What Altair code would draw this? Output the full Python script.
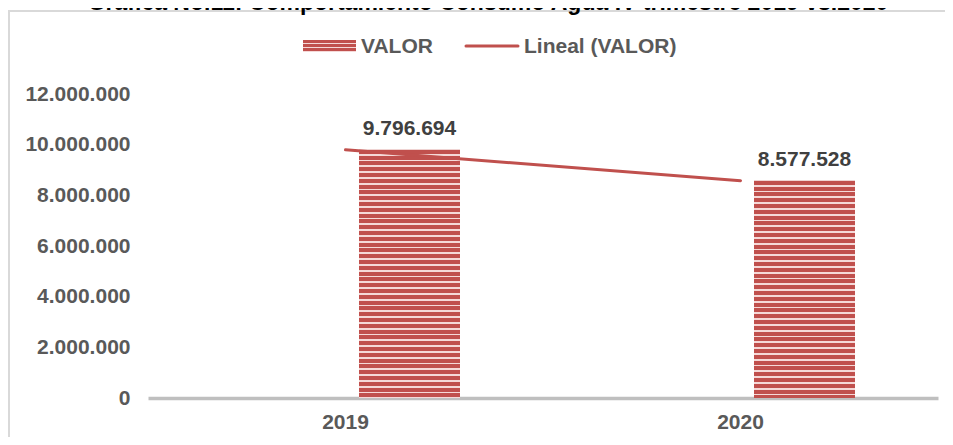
import altair as alt
import pandas as pd

# ---- data ----
years = ["2019", "2020"]
valores = [9796694, 8577528]
y_ticks = [0, 2000000, 4000000, 6000000, 8000000, 10000000, 12000000]
title_text = "Gráfica No.11: Comportamiento Consumo Agua IV trimestre 2019 vs.2020"
legend_labels = ["VALOR", "Lineal (VALOR)"]

df = pd.DataFrame({"year": years, "valor": valores})
one = pd.DataFrame({"k": [0]})

# ---- style ----
W, H = 790, 304
YMAX = 12000000
RED = "#c0504d"
LIGHT = "#f5d9d8"
FONT = "Liberation Sans"
LABEL_COLOR = "#595959"
BORDER = "#d9d9d9"


def striped(height_px, period=5.8, light=1.8):
    stops = []
    pos = 0.0
    while pos < height_px - 1e-6:
        r_end = min(pos + period - light, height_px)
        l_end = min(pos + period, height_px)
        stops.append(alt.GradientStop(offset=round(pos / height_px, 5), color=RED))
        stops.append(alt.GradientStop(offset=round(r_end / height_px, 5), color=RED))
        if l_end > r_end:
            stops.append(alt.GradientStop(offset=round(r_end / height_px, 5), color=LIGHT))
            stops.append(alt.GradientStop(offset=round(l_end / height_px, 5), color=LIGHT))
        pos += period
    return alt.Gradient(gradient="linear", x1=0, x2=0, y1=0, y2=1, stops=stops)


xscale = alt.Scale(domain=years, paddingInner=0, paddingOuter=0)
yscale = alt.Scale(domain=[0, YMAX], nice=False)

x_axis = alt.Axis(title=None, labelAngle=0, labelFont=FONT, labelFontSize=21,
                  labelFontWeight="bold", labelColor=LABEL_COLOR, ticks=False,
                  domainColor="#bfbfbf", domainWidth=3.5, labelPadding=13, grid=False)
y_axis = alt.Axis(title=None, values=y_ticks, format=",d", domain=False, ticks=False,
                  grid=False, labelPadding=18, labelFont=FONT, labelFontSize=21,
                  labelFontWeight="bold", labelColor=LABEL_COLOR)

X = alt.X("year:N", scale=xscale, axis=x_axis)
Xc = alt.X("year:N", scale=xscale, axis=x_axis, bandPosition=0.5)
Y = alt.Y("valor:Q", scale=yscale, axis=y_axis)

# outer chart border (left and top edges; the rest lies outside the picture)
border_left = alt.Chart(one).mark_rule(color=BORDER, strokeWidth=2).encode(
    x=alt.value(-139), y=alt.value(-84), y2=alt.value(420)
)
border_top = alt.Chart(one).mark_rule(color=BORDER, strokeWidth=2).encode(
    x=alt.value(-140), x2=alt.value(830), y=alt.value(-83)
)

# title (clipped at top like the reference)
title = alt.Chart(one).mark_text(font=FONT, fontSize=23, fontWeight="bold", color="#000000",
                                 baseline="alphabetic", align="center").encode(
    x=alt.value(340), y=alt.value(-84), text=alt.value(title_text)
)

# bars (striped)
bars = []
for yr, v in zip(years, valores):
    hpx = v / YMAX * H
    b = alt.Chart(df).transform_filter(alt.datum.year == yr).mark_bar(
        color=striped(hpx), size=101, xOffset=64
    ).encode(x=X, y=Y)
    bars.append(b)

line = alt.Chart(df).mark_line(color=RED, strokeWidth=3, strokeCap="round").encode(x=Xc, y=Y)

labels = alt.Chart(df).mark_text(font=FONT, fontSize=21, fontWeight="bold", color="#404040",
                                 baseline="alphabetic", dy=-15, xOffset=64).encode(
    x=Xc, y=Y, text=alt.Text("valor:Q", format=",d"),
)

# legend
leg_rect = alt.Chart(one).mark_rect(color=striped(12, period=4.2, light=1.3)).encode(
    x=alt.value(155), x2=alt.value(208), y=alt.value(-54), y2=alt.value(-42)
)
leg_text1 = alt.Chart(one).mark_text(font=FONT, fontSize=21, fontWeight="bold", color=LABEL_COLOR,
                                     align="left", baseline="alphabetic").encode(
    x=alt.value(213), y=alt.value(-41), text=alt.value(legend_labels[0])
)
leg_line = alt.Chart(one).mark_rule(color=RED, strokeWidth=3, strokeCap="round").encode(
    x=alt.value(318), x2=alt.value(370), y=alt.value(-48)
)
leg_text2 = alt.Chart(one).mark_text(font=FONT, fontSize=21, fontWeight="bold", color=LABEL_COLOR,
                                     align="left", baseline="alphabetic").encode(
    x=alt.value(376), y=alt.value(-41), text=alt.value(legend_labels[1])
)

chart = alt.layer(*bars, line, labels, border_left, border_top, title,
                  leg_rect, leg_text1, leg_line, leg_text2).properties(
    width=W, height=H,
    padding={"left": 140, "top": 86, "right": 7, "bottom": 39},
    autosize=alt.AutoSizeParams(type="none"),
    background="white",
).configure(
    locale={"number": {"decimal": ",", "thousands": ".", "grouping": [3], "currency": ["$", ""]}}
).configure_view(stroke=None)

chart.save("out.html", embed_options={"renderer": "svg", "actions": False})
